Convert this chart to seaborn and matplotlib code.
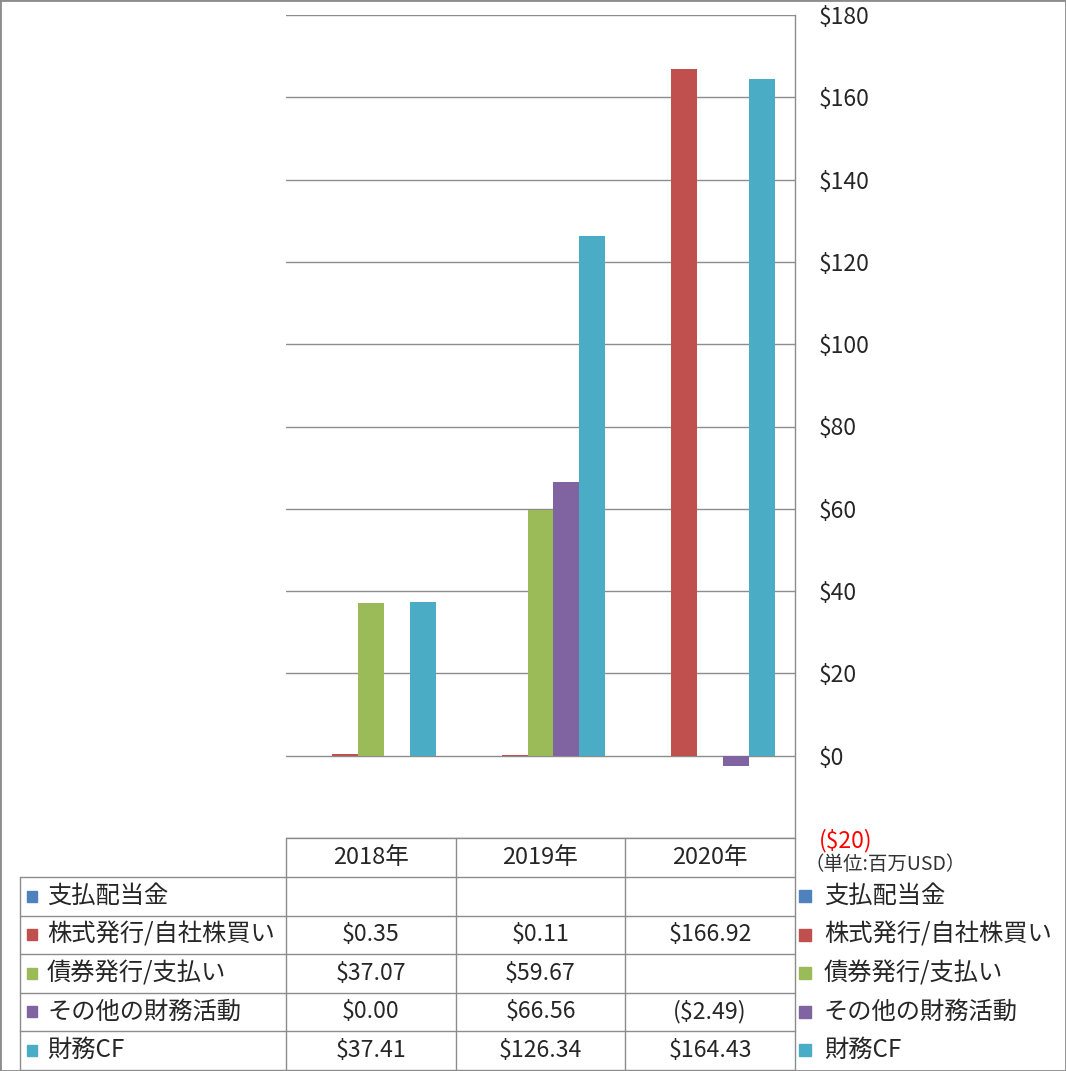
import numpy as np
import pandas as pd
import matplotlib
matplotlib.use('Agg')
import matplotlib.pyplot as plt
from matplotlib.patches import Rectangle
from matplotlib.lines import Line2D
import seaborn as sns

# data (百万USD)
years = ['2018年', '2019年', '2020年']
series = ['支払配当金', '株式発行/自社株買い', '債券発行/支払い', 'その他の財務活動', '財務CF']
dividends = [np.nan, np.nan, np.nan]
equity = [0.35, 0.11, 166.92]
debt = [37.07, 59.67, np.nan]
other = [0.00, 66.56, -2.49]
financing_cf = [37.41, 126.34, 164.43]
colors = ['#4F81BD', '#C0504D', '#9BBB59', '#8064A2', '#4BACC6']
y_ticks = list(range(-20, 181, 20))

values = [dividends, equity, debt, other, financing_cf]
rows = []
for s, vals in zip(series, values):
    for yr, v in zip(years, vals):
        rows.append({'year': yr, 'series': s, 'value': v})
df = pd.DataFrame(rows)


def money(v, digits=2):
    if pd.isna(v):
        return ''
    if v < 0:
        return f'(${-v:.{digits}f})'
    return f'${v:.{digits}f}'


sns.set_style('white')
plt.rcParams['font.family'] = ['Noto Sans CJK JP', 'DejaVu Sans']

W, H = 1066, 1071
fig = plt.figure(figsize=(W / 100, H / 100), dpi=100)


def fx(x):
    return x / W


def fy(y):
    return 1 - y / H


grey = '#8c8c8c'
ax_left, ax_right, ax_top, ax_bottom = 286, 795, 15, 838
ax = fig.add_axes([fx(ax_left), fy(ax_bottom), fx(ax_right) - fx(ax_left), fy(ax_top) - fy(ax_bottom)])

sns.barplot(data=df.dropna(), x='year', y='value', hue='series', order=years,
            hue_order=series, palette=dict(zip(series, colors)), width=0.765,
            saturation=1, errorbar=None, legend=False, linewidth=0, ax=ax)

ax.set_xlim(-0.5, len(years) - 0.5)
ax.set_ylim(y_ticks[0], y_ticks[-1])
ax.set_xticks([])
ax.set_xlabel('')
ax.set_ylabel('')
ax.yaxis.tick_right()
ax.set_yticks(y_ticks, labels=[money(t, 0) for t in y_ticks])
for t, lab in zip(y_ticks, ax.get_yticklabels()):
    if t < 0:
        lab.set_color('red')
ax.tick_params(axis='y', length=0, pad=17, labelsize=16.5)
ax.yaxis.grid(True, color=grey, lw=1)
ax.set_axisbelow(True)
for side in ['top', 'left', 'bottom']:
    ax.spines[side].set_visible(False)
ax.spines['right'].set_color(grey)
ax.spines['right'].set_linewidth(1)

# data table under the plot
col_px = [ax.transData.transform((x, 0))[0] for x in np.arange(len(years) + 1) - 0.5]
head_h, row_h = 39, 38.5
label_left = 20
row_tops = [ax_bottom + head_h + i * row_h for i in range(len(series) + 1)]


def hline(x0, x1, y):
    fig.add_artist(Line2D([fx(x0), fx(x1)], [fy(y), fy(y)], color=grey, lw=1))


def vline(x, y0, y1):
    fig.add_artist(Line2D([fx(x), fx(x)], [fy(y0), fy(y1)], color=grey, lw=1))


hline(col_px[0], col_px[-1], ax_bottom)
for y in row_tops:
    hline(label_left, col_px[-1], y)
for x in col_px:
    vline(x, ax_bottom, row_tops[-1])
vline(label_left, row_tops[0], row_tops[-1])

for j, yr in enumerate(years):
    fig.text(fx((col_px[j] + col_px[j + 1]) / 2), fy(ax_bottom + head_h / 2), yr,
             ha='center', va='center', fontsize=17)

for i, (s, c, vals) in enumerate(zip(series, colors, values)):
    yc = row_tops[i] + row_h / 2
    fig.add_artist(Rectangle((fx(27), fy(yc + 5.5)), fx(10), 11 / H,
                             transform=fig.transFigure, color=c))
    fig.text(fx(47), fy(yc), s, ha='left', va='center', fontsize=17.5)
    for j, v in enumerate(vals):
        fig.text(fx((col_px[j] + col_px[j + 1]) / 2), fy(yc), money(v),
                 ha='center', va='center', fontsize=16.7)
    # legend on the right
    fig.add_artist(Rectangle((fx(799), fy(yc + 6)), fx(12), 12 / H,
                             transform=fig.transFigure, color=c))
    fig.text(fx(824), fy(yc), s, ha='left', va='center', fontsize=17.5)

fig.text(fx(804), fy(864), '（単位:百万USD）', ha='left', va='center', fontsize=14, color='#333333')

fig.add_artist(Rectangle((0, 0), 1, 1, transform=fig.transFigure, fill=False, edgecolor=grey, lw=2))

fig.savefig('out.png', dpi=100)
